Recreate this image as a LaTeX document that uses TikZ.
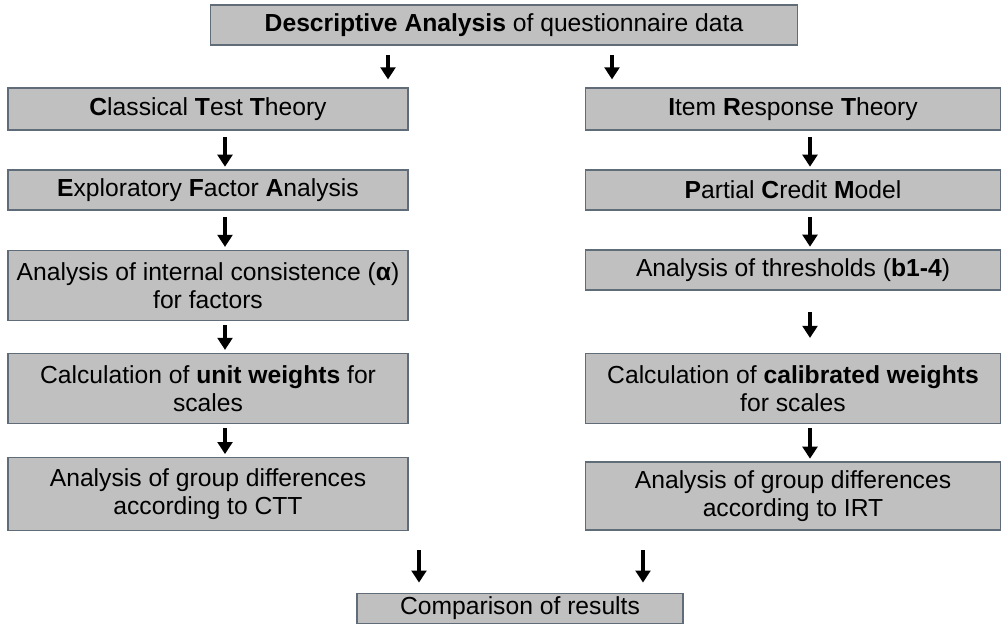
\documentclass[tikz,border=0pt]{standalone}
\usepackage{fontspec}
\setmainfont{Liberation Sans}
\usepackage{tikz}
\usetikzlibrary{positioning, arrows.meta}

\begin{document}
\begin{tikzpicture}[x=0.75pt,y=-0.75pt,
  stepbox/.style={draw=boxLine, line width=0.9pt, fill=boxFill, inner sep=0pt,
    align=center, font=\fontsize{18.5}{21}\selectfont},
  flowarrow/.style={-{Triangle[width=11pt,length=9pt]}, line width=2.6pt, draw=black}]
\definecolor{boxFill}{RGB}{192,192,192}
\definecolor{boxLine}{RGB}{96,108,120}
\path[use as bounding box,fill=white] (0,0) rectangle (1002,637);

% top
\node[stepbox, minimum width=440pt, minimum height=30pt] (descr) at (504,25)
  {\textbf{Descriptive Analysis} of questionnaire data};

% left column
\node[stepbox, minimum width=300pt, minimum height=31.5pt] (ctt) at (208,109)
  {\textbf{C}lassical \textbf{T}est \textbf{T}heory};
\node[stepbox, minimum width=300pt, minimum height=30pt] (efa) at (208,190)
  {\textbf{E}xploratory \textbf{F}actor \textbf{A}nalysis};
\node[stepbox, minimum width=300pt, minimum height=53pt] (alpha) at (208,285.5)
  {Analysis of internal consistence (\textbf{α})\\for factors};
\node[stepbox, minimum width=300pt, minimum height=53pt] (unitw) at (208,388.5)
  {Calculation of \textbf{unit weights} for\\scales};
\node[stepbox, minimum width=300pt, minimum height=55pt] (gdctt) at (208,494)
  {Analysis of group differences\\according to CTT};

% right column
\node[stepbox, minimum width=311pt, minimum height=31.5pt] (irt) at (793,109)
  {\textbf{I}tem \textbf{R}esponse \textbf{T}heory};
\node[stepbox, minimum width=311pt, minimum height=30pt] (pcm) at (793,190)
  {\textbf{P}artial \textbf{C}redit \textbf{M}odel};
\node[stepbox, minimum width=311pt, minimum height=30pt] (thresh) at (793,270)
  {Analysis of thresholds (\textbf{b1-4})};
\node[stepbox, minimum width=311pt, minimum height=53pt] (calw) at (793,388.5)
  {Calculation of \textbf{calibrated weights}\\for scales};
\node[stepbox, minimum width=311pt, minimum height=51pt] (gdirt) at (793,496)
  {Analysis of group differences\\according to IRT};

% bottom
\node[stepbox, minimum width=244.5pt, minimum height=22pt] (compare) at (520,608.5)
  {Comparison of results};

\coordinate (cmpL) at (419,550);
\coordinate (cmpR) at (643,550);

% arrows
\draw[flowarrow, shorten <=7pt, shorten >=6pt] (descr.south -| 388,0) -- (ctt.north -| 388,0);
\draw[flowarrow, shorten <=7pt, shorten >=6pt] (descr.south -| 612,0) -- (irt.north -| 612,0);

\draw[flowarrow, shorten <=5pt, shorten >=2pt] (ctt.south -| 225,0) -- (efa.north -| 225,0);
\draw[flowarrow, shorten <=5pt, shorten >=2pt] (efa.south -| 225,0) -- (alpha.north -| 225,0);
\draw[flowarrow, shorten <=3pt, shorten >=2pt] (alpha.south -| 225,0) -- (unitw.north -| 225,0);
\draw[flowarrow, shorten <=3pt, shorten >=2pt] (unitw.south -| 225,0) -- (gdctt.north -| 225,0);

\draw[flowarrow, shorten <=5pt, shorten >=2pt] (irt.south -| 810,0) -- (pcm.north -| 810,0);
\draw[flowarrow, shorten <=5pt, shorten >=2pt] (pcm.south -| 810,0) -- (thresh.north -| 810,0);
\draw[flowarrow, shorten <=16pt, shorten >=11pt] (thresh.south -| 810,0) -- (calw.north -| 810,0);
\draw[flowarrow, shorten <=3pt, shorten >=2pt] (calw.south -| 810,0) -- (gdirt.north -| 810,0);

\draw[flowarrow, shorten >=8pt] (cmpL) -- (compare.north -| cmpL);
\draw[flowarrow, shorten >=8pt] (cmpR) -- (compare.north -| cmpR);
\end{tikzpicture}
\end{document}
